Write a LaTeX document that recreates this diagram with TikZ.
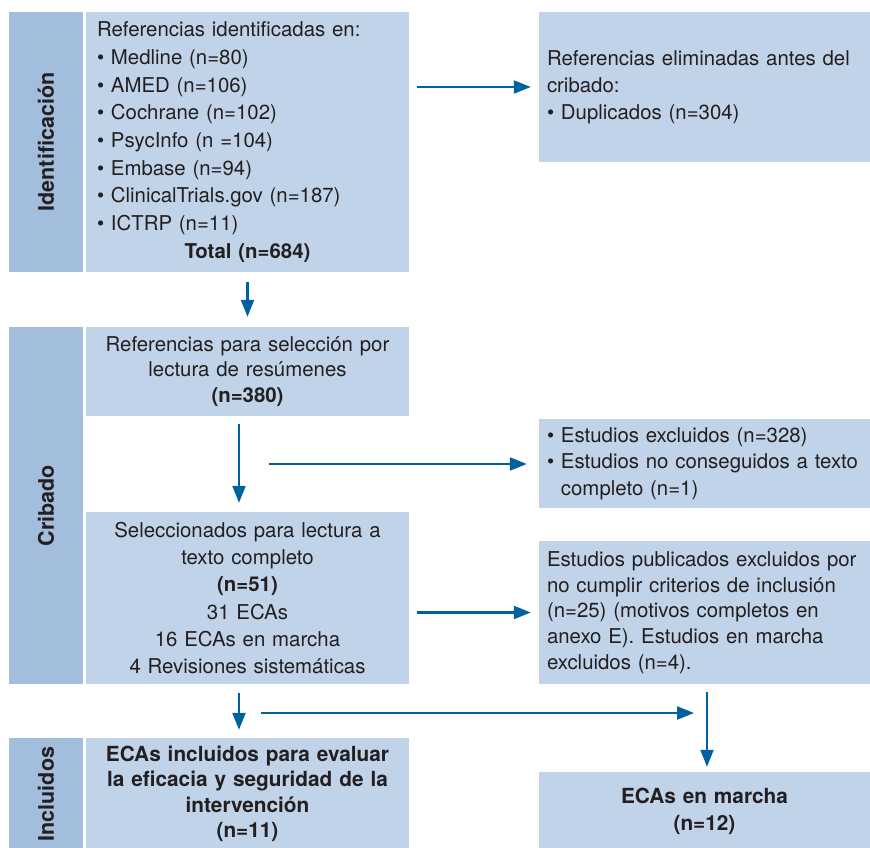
\documentclass[tikz,border=0pt]{standalone}
\usepackage{fontspec}
\setmainfont{TeX Gyre Heros}
\usetikzlibrary{arrows.meta}

\definecolor{boxblue}{HTML}{C0D3E8}
\definecolor{bandblue}{HTML}{A3BEDD}
\definecolor{arrowblue}{HTML}{0061A0}
\definecolor{txtgrey}{HTML}{231F20}

\newcommand{\itembul}{\textbullet\ }
\newcommand{\itemgap}{\phantom{\textbullet\ }}

\tikzset{
  flowbox/.style={fill=boxblue, inner sep=0pt, text=txtgrey,
    font=\fontsize{20.4}{26.8}\selectfont},
  leftbox/.style={flowbox, minimum width=323pt, text width=301pt},
  rightbox/.style={flowbox, minimum width=331pt, text width=315pt},
  stageband/.style={fill=bandblue, inner sep=0pt, text=txtgrey, rotate=90,
    minimum height=74pt, font=\bfseries\fontsize{21.5}{24}\selectfont},
  flowarrow/.style={draw=arrowblue, line width=2.2pt,
    -{Triangle[length=17pt,width=13pt]}}
}

\begin{document}
\begin{tikzpicture}[x=1pt,y=-1pt]
  \useasboundingbox (0,0) rectangle (870,848);

  % Stages
  \node[stageband, minimum width=260pt] (identband) at (46,142) {Identificación};
  \node[stageband, minimum width=357pt] (cribband) at (46,505.5) {Cribado};
  \node[stageband, minimum width=112pt] (inclband) at (46,794) {Incluidos};

  % Left column
  \node[leftbox, minimum height=260pt, align=left,
        font=\fontsize{20.4}{27.7}\selectfont] (idbox) at (247.5,142)
    {Referencias identificadas en:\\
     \itembul Medline (n=80)\\
     \itembul AMED (n=106)\\
     \itembul Cochrane (n=102)\\
     \itembul PsycInfo (n =104)\\
     \itembul Embase (n=94)\\
     \itembul ClinicalTrials.gov (n=187)\\
     \itembul ICTRP (n=11)\\
     \makebox[301pt]{\bfseries Total (n=684)}};
  \node[leftbox, minimum height=89pt, align=center,
        font=\fontsize{20.4}{25.6}\selectfont] (absbox) at (247.5,371.5)
    {Referencias para selección por\\ lectura de resúmenes\\ \textbf{(n=380)}};
  \node[leftbox, minimum height=172pt, align=center,
        font=\fontsize{20.4}{27.2}\selectfont] (ftbox) at (247.5,598)
    {Seleccionados para lectura a\\ texto completo\\ \textbf{(n=51)}\\
     31 ECAs\\ 16 ECAs en marcha\\ 4 Revisiones sistemáticas};
  \node[leftbox, minimum height=112pt, align=center,
        font=\bfseries\fontsize{20.8}{25.5}\selectfont] (incbox) at (247.5,794)
    {ECAs incluidos para evaluar\\ la eficacia y seguridad de la\\
     intervención\\ (n=11)};

  % Right column
  \node[rightbox, minimum height=150pt, align=left] (dupbox) at (704.5,87)
    {Referencias eliminadas antes del\\ cribado:\\ \itembul Duplicados (n=304)};
  \node[rightbox, minimum height=89pt, align=left,
        font=\fontsize{20.4}{26.5}\selectfont] (exc1box) at (704.5,463.5)
    {\itembul Estudios excluidos (n=328)\\
     \itembul Estudios no conseguidos a texto\\
     \itemgap completo (n=1)};
  \node[rightbox, minimum height=143pt, align=left,
        font=\fontsize{20.4}{25.7}\selectfont] (exc2box) at (704.5,612.5)
    {Estudios publicados excluidos por\\ no cumplir criterios de inclusión\\
     (n=25) (motivos completos en\\ anexo E). Estudios en marcha\\
     excluidos (n=4).};
  \node[rightbox, minimum height=78pt, align=center,
        font=\bfseries\fontsize{20.8}{27}\selectfont] (ongbox) at (704.5,811)
    {ECAs en marcha\\ (n=12)};

  % Arrows
  \coordinate (exc1start) at (269,464);
  \coordinate (ongstart) at (261,713);
  \coordinate (ongend) at (694,713);

  \draw[flowarrow, shorten <=8pt, shorten >=8pt]
    (idbox.east |- dupbox.west) -- (dupbox.west);
  \draw[flowarrow, shorten <=10pt, shorten >=10pt] (idbox.south) -- (absbox.north);
  \draw[flowarrow, shorten <=8pt, shorten >=9pt]
    ([xshift=-8.5pt]absbox.south) -- ([xshift=-8.5pt]ftbox.north);
  \draw[flowarrow, shorten >=12pt] (exc1start) -- (exc1start -| exc1box.west);
  \draw[flowarrow, shorten <=8pt, shorten >=8pt]
    (ftbox.east |- exc2box.west) -- (exc2box.west);
  \draw[flowarrow, shorten <=9pt, shorten >=8pt]
    ([xshift=-8.5pt]ftbox.south) -- ([xshift=-8.5pt]incbox.north);
  \draw[flowarrow] (ongstart) -- (ongend);
  \draw[flowarrow, shorten <=8pt, shorten >=5pt]
    ([xshift=2.5pt]exc2box.south) -- ([xshift=2.5pt]ongbox.north);
\end{tikzpicture}
\end{document}
